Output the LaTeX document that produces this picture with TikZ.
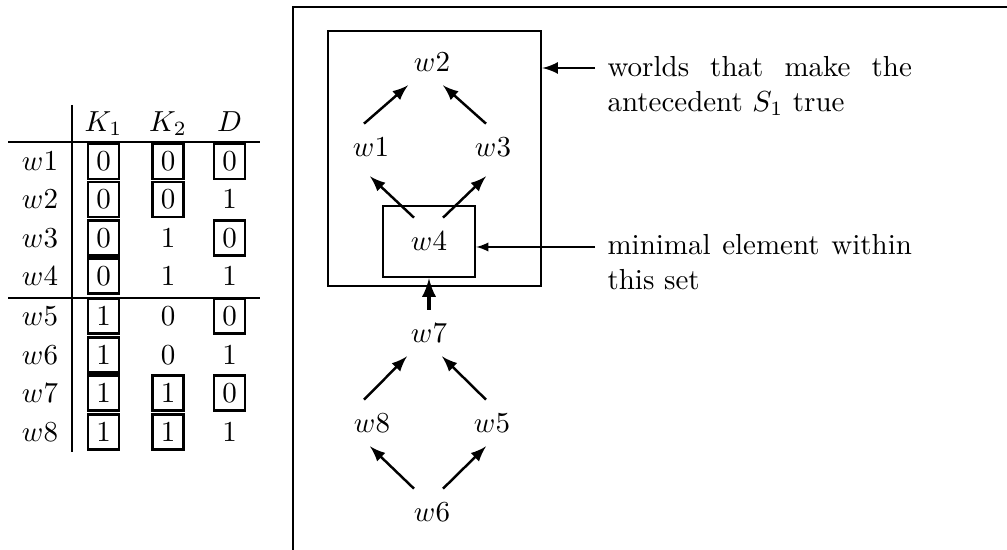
\documentclass[tikz,border=0pt]{standalone}
\usepackage{amsmath}
\usepackage{tikz}
\usetikzlibrary{arrows,positioning,calc}

\begin{document}
\begin{tikzpicture}[
    x=0.345pt, y=-0.345pt,
    cell/.style={inner sep=0pt, text height=6.5pt, text depth=0pt},
    boxed/.style={cell, draw, line width=0.85pt, minimum width=10.8pt, minimum height=12pt},
    world/.style={inner xsep=3pt, inner ysep=4.6pt, text height=6.5pt, text depth=0pt},
    setbox/.style={draw, line width=0.9pt},
    note/.style={text width=105pt, align=justify, inner sep=0pt, anchor=north west},
    rule/.style={line width=1pt},
    arrow/.style={->, >=latex, line width=0.85pt},
    thinarrow/.style={->, >=latex, line width=0.45pt}
]

\useasboundingbox (0,0) rectangle (1007,550);

% Truth table: header
\node[cell] (hk1) at (103.5,122) {$K_1$};
\node[cell] (hk2) at (168,122) {$K_2$};
\node[cell] (hd) at (229.5,122) {$D$};

% Truth table: rows
\node[cell] (r1) at (40,161.5) {$w1$};
\node[boxed] (r1k1) at (103.5,161.5) {$0$};
\node[boxed] (r1k2) at (168,161.5) {$0$};
\node[boxed] (r1d) at (229.5,161.5) {$0$};

\node[cell] (r2) at (40,199.5) {$w2$};
\node[boxed] (r2k1) at (103.5,199.5) {$0$};
\node[boxed] (r2k2) at (168,199.5) {$0$};
\node[cell] (r2d) at (229.5,199.5) {$1$};

\node[cell] (r3) at (40,238) {$w3$};
\node[boxed] (r3k1) at (103.5,238) {$0$};
\node[cell] (r3k2) at (168,238) {$1$};
\node[boxed] (r3d) at (229.5,238) {$0$};

\node[cell] (r4) at (40,276) {$w4$};
\node[boxed] (r4k1) at (103.5,276) {$0$};
\node[cell] (r4k2) at (168,276) {$1$};
\node[cell] (r4d) at (229.5,276) {$1$};

\node[cell] (r5) at (40,316) {$w5$};
\node[boxed] (r5k1) at (103.5,316) {$1$};
\node[cell] (r5k2) at (168,316) {$0$};
\node[boxed] (r5d) at (229.5,316) {$0$};

\node[cell] (r6) at (40,355) {$w6$};
\node[boxed] (r6k1) at (103.5,355) {$1$};
\node[cell] (r6k2) at (168,355) {$0$};
\node[cell] (r6d) at (229.5,355) {$1$};

\node[cell] (r7) at (40,393) {$w7$};
\node[boxed] (r7k1) at (103.5,393) {$1$};
\node[boxed] (r7k2) at (168,393) {$1$};
\node[boxed] (r7d) at (229.5,393) {$0$};

\node[cell] (r8) at (40,432) {$w8$};
\node[boxed] (r8k1) at (103.5,432) {$1$};
\node[boxed] (r8k2) at (168,432) {$1$};
\node[cell] (r8d) at (229.5,432) {$1$};

% Truth table: rules
\draw[rule] (72,105) -- (72,452);
\draw[rule] (8,142) -- (260,142);
\draw[rule] (8,298) -- (260,298);

% Frame around the ordering
\draw[rule] (293,550) -- (293,7) -- (1007,7);

% Worlds
\node[world] (w2) at (432,62) {$w2$};
\node[world] (w1) at (371,147) {$w1$};
\node[world] (w3) at (493,147) {$w3$};
\node[setbox, minimum width=31.7pt, minimum height=24.5pt] (w4) at (429,241.5) {$w4$};
\node[world] (w7) at (429,333) {$w7$};
\node[world] (w8) at (372,423) {$w8$};
\node[world] (w5) at (492,423) {$w5$};
\node[world] (w6) at (432,512) {$w6$};

% Set of worlds where S_1 holds
\node[setbox, minimum width=73.5pt, minimum height=88pt] (anteset) at (434.5,158.5) {};

% Ordering arrows
\draw[arrow] ($(w1.north)+(-7,0)$) -- ($(w2.south)+(-24,0)$);
\draw[arrow] ($(w3.north)+(-7,0)$) -- ($(w2.south)+(11,0)$);
\draw[arrow] ($(w4.north)+(-15,13)$) -- ($(w1.south)+(-1,6)$);
\draw[arrow] ($(w4.north)+(14,13)$) -- ($(w3.south)+(-7,6)$);
\draw[arrow, line width=1.2pt] (w7.north) -- (w4.south);
\draw[arrow] ($(w8.north)+(-8,0)$) -- ($(w7.south)+(-22,0)$);
\draw[arrow] ($(w5.north)+(-6,0)$) -- ($(w7.south)+(13,0)$);
\draw[arrow] ($(w6.north)+(-18,0)$) -- ($(w8.south)+(-2,0)$);
\draw[arrow] ($(w6.north)+(11,0)$) -- ($(w5.south)+(-6,0)$);

% Annotations
\coordinate (tip1) at (595,68);
\draw[arrow] (tip1) -- (tip1 -| anteset.east);
\node[note] (note1) at (607,56) {worlds that make the antecedent $S_1$ true};

\coordinate (tip2) at (595,247);
\draw[thinarrow] (tip2) -- (tip2 -| w4.east);
\node[note] (note2) at (607,234) {minimal element within this set};

\end{tikzpicture}
\end{document}
